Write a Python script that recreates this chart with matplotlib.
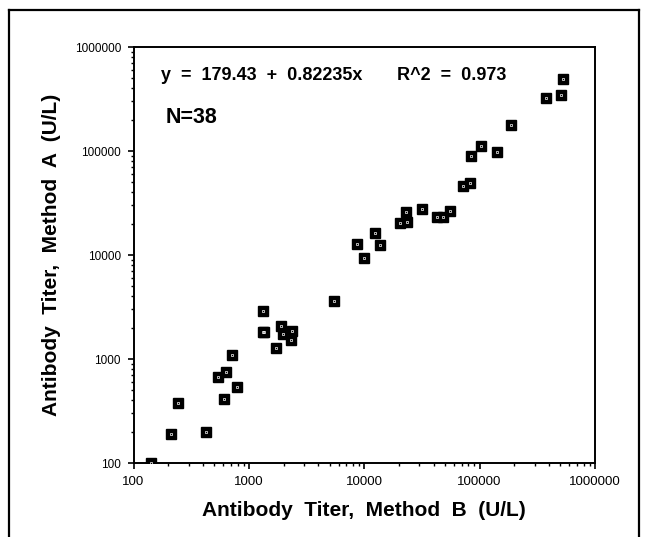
import matplotlib
matplotlib.use("Agg")
import matplotlib.pyplot as plt
from matplotlib.lines import Line2D
import numpy as np

plt.rcParams['font.family'] = ['Liberation Sans', 'DejaVu Sans']

# Method B titer (x) and Method A titer (y), U/L
method_b = [141, 210, 243, 423, 545, 606, 635, 711, 786,
            1321, 1337, 1360, 1892, 1995, 2388, 2296, 1723,
            5521, 8730, 10000, 12280, 13680,
            20500, 23500, 22900, 31550, 42560, 48500, 54960,
            72300, 82000, 84500, 103500, 141700, 188700,
            377600, 509000, 533000]
method_a = [100, 188, 378, 197, 664, 408, 751, 1095, 539,
            2866, 1799, 1830, 2056, 1721, 1864, 1517, 1271,
            3600, 12820, 9270, 16360, 12450,
            20140, 20600, 26070, 27680, 23070, 23070, 26350,
            46560, 49200, 89100, 110900, 97700, 177800,
            323600, 343600, 490000]

ticks = [100, 1000, 10000, 100000, 1000000]
tick_labels = ["100", "1000", "10000", "100000", "1000000"]

W, H = 646, 537
fig = plt.figure(figsize=(W / 100, H / 100), dpi=100)

# axes box in pixels: left 133.5, right 595, top 47, bottom 463
left, right, top, bottom = 133.5, 595, 47, 463
ax = fig.add_axes([left / W, 1 - bottom / H, (right - left) / W, (bottom - top) / H])

ax.plot(method_b, method_a, linestyle='none', marker='s', markersize=6.5,
        markerfacecolor='black', markeredgecolor='black', zorder=3)
ax.plot(method_b, method_a, linestyle='none', marker='s', markersize=1.6,
        markerfacecolor='none', markeredgecolor='white', markeredgewidth=0.5, zorder=4)

ax.set_xscale('log')
ax.set_yscale('log')
ax.set_xlim(100, 1000000)
ax.set_ylim(100, 1000000)
ax.set_xticks(ticks)
ax.set_xticklabels(tick_labels)
ax.set_yticks(ticks)
ax.set_yticklabels(tick_labels)

for s in ax.spines.values():
    s.set_linewidth(1.4)

ax.tick_params(which='major', direction='out', length=4, width=1.2, labelsize=8.5,
               top=False, right=False)
ax.tick_params(which='minor', direction='out', length=2.5, width=1.0,
               top=False, right=False)
ax.tick_params(axis='x', which='major', pad=5.5, labelsize=9.5)
ax.tick_params(axis='y', which='major', pad=5)

ax.set_xlabel("Antibody  Titer,  Method  B  (U/L)", fontsize=15, fontweight='bold',
              va='center')
ax.xaxis.set_label_coords(0.5, -(510.7 - bottom) / (bottom - top))
ax.set_ylabel("Antibody  Titer,  Method  A  (U/L)", fontsize=15, fontweight='bold',
              va='center')
ax.yaxis.set_label_coords(-(left - 52) / (right - left), 0.5)

def px(x, y):
    return (x - left) / (right - left), (bottom - y) / (bottom - top)

ax.text(*px(160.7, 75.7), "y  =  179.43  +  0.82235x", transform=ax.transAxes,
        fontsize=13, fontweight='bold', va='center', ha='left')
ax.text(*px(397.3, 75.5), "R^2  =  0.973", transform=ax.transAxes,
        fontsize=13, fontweight='bold', va='center', ha='left')
ax.text(*px(166, 117.3), "N=38", transform=ax.transAxes,
        fontsize=15.5, fontweight='bold', va='center', ha='left')

# outer frame (open at the bottom)
fx0, fx1, fy0 = 8.5 / W, 638.5 / W, 1 - 9.5 / H
frame_kw = dict(color='black', linewidth=1.6, transform=fig.transFigure)
fig.add_artist(Line2D([fx0, fx1], [fy0, fy0], **frame_kw))
fig.add_artist(Line2D([fx0, fx0], [fy0, 0], **frame_kw))
fig.add_artist(Line2D([fx1, fx1], [fy0, 0], **frame_kw))

fig.savefig("out.png", dpi=100)
